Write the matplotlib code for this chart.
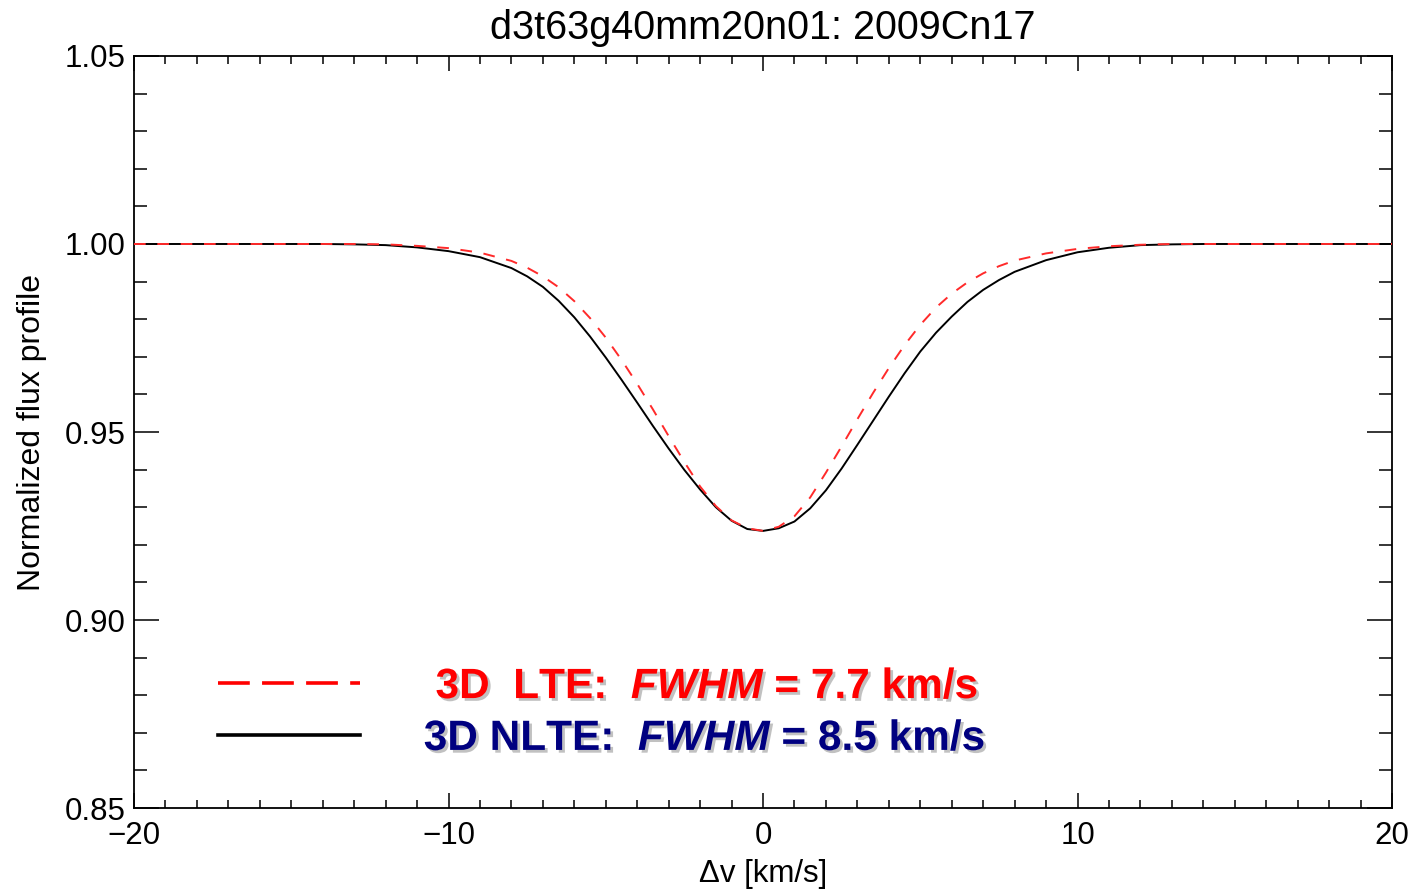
import numpy as np
import matplotlib
matplotlib.use('Agg')
import matplotlib.pyplot as plt
import matplotlib.patheffects as pe
from matplotlib.lines import Line2D
from matplotlib.ticker import MultipleLocator, FormatStrFormatter

plt.rcParams['font.family'] = ['Liberation Sans', 'DejaVu Sans']
plt.rcParams['mathtext.fontset'] = 'custom'
plt.rcParams['mathtext.it'] = 'Liberation Sans:italic:bold'
plt.rcParams['mathtext.rm'] = 'Liberation Sans:bold'

# line profiles (velocity shift in km/s, normalized flux)
dv_nlte = [-20.0, -14.0, -13.0, -12.0, -11.0, -10.0, -9.0, -8.0, -7.5, -7.0, -6.5,
           -6.0, -5.5, -5.0, -4.5, -4.0, -3.5, -3.0, -2.5, -2.0, -1.5, -1.0, -0.5,
           0.0, 0.5, 1.0, 1.5, 2.0, 2.5, 3.0, 3.5, 4.0, 4.5, 5.0, 5.5,
           6.0, 6.5, 7.0, 7.5, 8.0, 9.0, 10.0, 11.0, 12.0, 13.0, 14.0, 20.0]
flux_nlte = [1.0000, 1.0000, 0.9999, 0.9997, 0.9991, 0.9981, 0.9965, 0.9936, 0.9914, 0.9886, 0.9849,
             0.9805, 0.9754, 0.9698, 0.9639, 0.9578, 0.9516, 0.9456, 0.9399, 0.9347, 0.9300, 0.9264, 0.9242,
             0.9237, 0.9244, 0.9262, 0.9297, 0.9345, 0.9403, 0.9466, 0.9530, 0.9594, 0.9656, 0.9714, 0.9764,
             0.9807, 0.9846, 0.9878, 0.9904, 0.9926, 0.9957, 0.9978, 0.9990, 0.9997, 0.9999, 1.0000, 1.0000]

dv_lte = [-20.0, -14.0, -13.0, -12.0, -11.0, -10.0, -9.0, -8.0, -7.5, -7.0, -6.5,
          -6.0, -5.5, -5.0, -4.5, -4.0, -3.5, -3.0, -2.5, -2.0, -1.5, -1.0, -0.5,
          0.0, 0.5, 1.0, 1.5, 2.0, 2.5, 3.0, 3.5, 4.0, 4.5, 5.0, 5.5,
          6.0, 6.5, 7.0, 7.5, 8.0, 9.0, 10.0, 11.0, 12.0, 13.0, 14.0, 20.0]
flux_lte = [1.0000, 1.0000, 1.0000, 0.9999, 0.9995, 0.9989, 0.9977, 0.9955, 0.9937, 0.9914, 0.9885,
            0.9848, 0.9803, 0.9751, 0.9692, 0.9628, 0.9560, 0.9489, 0.9420, 0.9355, 0.9303, 0.9265, 0.9244,
            0.9237, 0.9248, 0.9276, 0.9326, 0.9392, 0.9462, 0.9534, 0.9604, 0.9670, 0.9731, 0.9785, 0.9831,
            0.9868, 0.9898, 0.9922, 0.9941, 0.9956, 0.9975, 0.9987, 0.9994, 0.9998, 1.0000, 1.0000, 1.0000]

title = 'd3t63g40mm20n01: 2009Cn17'
# leading space on the LTE line: both lines are centred in the original
label_lte = r' 3D  LTE:  $\mathit{FWHM}$ = 7.7 km/s'
label_nlte = r'3D NLTE:  $\mathit{FWHM}$ = 8.5 km/s'

fig = plt.figure(figsize=(14.18, 8.90), dpi=100)
ax = fig.add_axes([0.0945, 0.0921, 0.8872, 0.8450])

ax.plot(dv_nlte, flux_nlte, color='black', lw=1.4, zorder=3)
ax.plot(dv_lte, flux_lte, color='#ff2a2a', lw=1.4, ls=(0, (6.0, 6.0)), zorder=4)

ax.set_xlim(-20, 20)
ax.set_ylim(0.85, 1.05)
ax.xaxis.set_major_locator(MultipleLocator(10))
ax.xaxis.set_minor_locator(MultipleLocator(1))
ax.yaxis.set_major_locator(MultipleLocator(0.05))
ax.yaxis.set_minor_locator(MultipleLocator(0.01))
ax.yaxis.set_major_formatter(FormatStrFormatter('%.2f'))

# IDL style ticks: inward on every side, y ticks longer than x ticks
ax.tick_params(axis='both', which='both', direction='in', top=True, right=True,
               width=1.1, color='black', labelsize=22.5)
ax.tick_params(axis='x', which='major', length=11, pad=9)
ax.tick_params(axis='x', which='minor', length=5.5)
ax.tick_params(axis='y', which='major', length=18, pad=6)
ax.tick_params(axis='y', which='minor', length=9.5)
for s in ax.spines.values():
    s.set_linewidth(1.3)

ax.set_xlabel('Δv [km/s]', fontsize=22.5, labelpad=6)
ax.set_ylabel('Normalized flux profile', fontsize=23, labelpad=13)
ax.set_title(title, fontsize=28.5, pad=12)

handles = [Line2D([], [], color='red', lw=2.6, ls=(0, (8.8, 3.4))),
           Line2D([], [], color='black', lw=2.6)]
leg = ax.legend(handles, [label_lte, label_nlte], loc='lower left',
                bbox_to_anchor=(0.067, 0.065), frameon=False, borderpad=0,
                borderaxespad=0, handlelength=3.35, handletextpad=1.5,
                labelspacing=0.28, prop={'size': 30.5, 'weight': 'bold'})
shadow = [pe.withSimplePatchShadow(offset=(2, -2), shadow_rgbFace='#999999', alpha=0.6)]
for txt, c in zip(leg.get_texts(), ['#ff0000', '#000080']):
    txt.set_color(c)
    txt.set_path_effects(shadow)

fig.savefig('out.png', dpi=100)
